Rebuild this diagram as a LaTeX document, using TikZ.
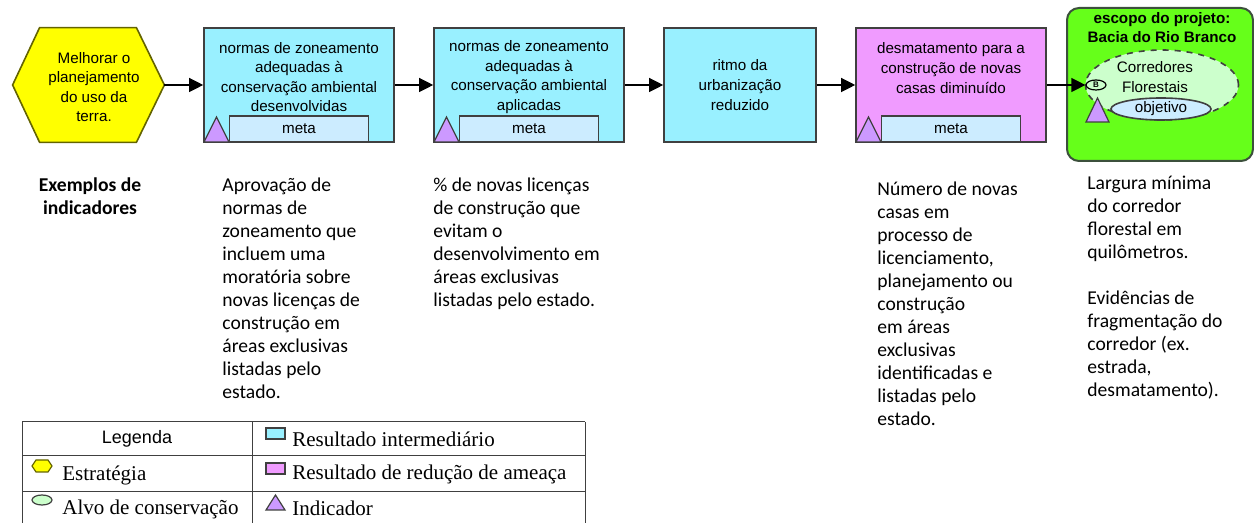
\documentclass[tikz,border=0pt]{standalone}
\usepackage{fontspec}
\setmainfont{Liberation Serif}
\setsansfont{Liberation Sans}
\newfontfamily\calibri{Carlito}
\usetikzlibrary{arrows.meta,shapes.geometric}

\definecolor{boxline}{RGB}{64,64,64}
\definecolor{intcyan}{RGB}{153,240,255}
\definecolor{threatpink}{RGB}{240,155,255}
\definecolor{metablue}{RGB}{204,236,255}
\definecolor{indpurple}{RGB}{204,153,255}
\definecolor{stratyellow}{RGB}{255,255,0}
\definecolor{stratline}{RGB}{100,100,0}
\definecolor{scopegreen}{RGB}{102,255,26}
\definecolor{scopeline}{RGB}{60,80,60}
\definecolor{targetgreen}{RGB}{204,255,204}

\tikzset{
    boxtext/.style={font=\sffamily\fontsize{7.6}{9.8}\selectfont, align=center, inner sep=0pt},
    titletext/.style={boxtext, font=\sffamily\bfseries\fontsize{7.6}{9.8}\selectfont},
    strat/.style={minimum width=75.5pt, minimum height=57pt, inner sep=0pt},
    intres/.style={draw=boxline, line width=0.8pt, fill=intcyan, minimum width=95pt, minimum height=57pt, inner sep=0pt},
    threat/.style={intres, fill=threatpink},
    metabox/.style={boxtext, draw=boxline, line width=0.8pt, fill=metablue, minimum width=69.5pt, minimum height=13pt},
    indicator/.style={draw=boxline, line width=0.6pt, fill=indpurple},
    scope/.style={draw=scopeline, line width=1pt, fill=scopegreen, rounded corners=6pt, minimum width=93pt, minimum height=76.5pt},
    target/.style={ellipse, draw=boxline, dashed, line width=0.8pt, fill=targetgreen, minimum width=76.5pt, minimum height=35pt},
    objective/.style={boxtext, ellipse, draw=boxline, line width=0.8pt, fill=metablue, minimum width=50pt, minimum height=11pt},
    keyattr/.style={ellipse, draw=black, line width=0.6pt, fill=targetgreen, inner sep=0pt, minimum width=10pt, minimum height=5pt, font=\sffamily\bfseries\fontsize{4}{4}\selectfont},
    link/.style={-{Triangle[length=7pt,width=7pt]}, line width=0.6pt},
    indtext/.style={font=\calibri\fontsize{9.8}{11.5}\selectfont, align=left, anchor=north west, inner sep=0pt},
    legline/.style={draw=boxline, line width=0.5pt},
    legtext/.style={font=\fontsize{10.5}{12}\selectfont, anchor=west, inner sep=0pt},
}

\begin{document}
\begin{tikzpicture}[x=0.5pt,y=-0.5pt]
    \useasboundingbox (0,0) rectangle (1254,523);
    % strategy
    \node[strat] (estr) at (88.5,85) {};
    \filldraw[fill=stratyellow,draw=stratline,line width=0.8pt] (estr.west) -- ([xshift=13.5pt]estr.north west) -- ([xshift=-14pt]estr.north east) -- (estr.east) -- ([xshift=-14pt]estr.south east) -- ([xshift=13.5pt]estr.south west) -- cycle;
    \node[boxtext] (estrtext) at (94,87) {Melhorar o\\planejamento\\do uso da\\terra.};
    % results
    \node[intres] (res1) at (299,85) {};
    \node[boxtext] (res1text) at (299,77) {normas de zoneamento\\adequadas à\\conservação ambiental\\desenvolvidas};
    \node[intres] (res2) at (529,85) {};
    \node[boxtext] (res2text) at (529,77) {normas de zoneamento\\adequadas à\\conservação ambiental\\aplicadas};
    \node[intres,boxtext,minimum width=76pt,minimum height=57pt] (res3) at (740,85) {ritmo da\\urbanização\\reduzido};
    \node[threat] (res4) at (951,85) {};
    \node[boxtext] (res4text) at (951,68) {desmatamento para a\\construção de novas\\casas diminuído};
    \foreach \c/\n in {299/1,529/2,951/4}{
        \node[metabox] (meta\n) at (\c,129) {meta};
        \draw[indicator] (\c-95,142) -- (\c-82.5,117) -- (\c-70,142) -- cycle;
    }
    % project scope
    \node[scope] (escopo) at (1160,84.5) {};
    \node[titletext] (escopotext) at (1162,27.5) {escopo do projeto:\\Bacia do Rio Branco};
    \node[target] (alvo) at (1162,85) {};
    \node[boxtext] (alvotext) at (1155,77) {Corredores\\Florestais};
    \node[objective] (obj) at (1161,109) {objetivo};
    \draw[indicator] (1086,122) -- (1097.5,98) -- (1109,122) -- cycle;
    \node[keyattr] (attrB) at (1096,85) {B};
    % links
    \draw[link] (estr.east) -- (res1.west);
    \draw[link] (res1) -- (res2);
    \draw[link] (res2) -- (res3);
    \draw[link] (res3) -- (res4);
    \draw[link] (res4) -- (attrB);
    % indicator examples
    \node[indtext,font=\calibri\bfseries\fontsize{9.8}{11.5}\selectfont,align=center,anchor=north] (exemplos) at (90,177) {Exemplos de\\indicadores};
    \node[indtext] (ind1) at (222,177) {Aprovação de\\normas de\\zoneamento que\\incluem uma\\moratória sobre\\novas licenças de\\construção em\\áreas exclusivas\\listadas pelo\\estado.};
    \node[indtext] (ind2) at (433,177) {\% de novas licenças\\de construção que\\evitam o\\desenvolvimento em\\áreas exclusivas\\listadas pelo estado.};
    \node[indtext] (ind3) at (877,181) {Número de novas\\casas em\\processo de\\licenciamento,\\planejamento ou\\construção\\em áreas\\exclusivas\\identificadas e\\listadas pelo\\estado.};
    \node[indtext] (ind4) at (1087,176) {Largura mínima\\do corredor\\florestal em\\quilômetros.\\[11.5pt]Evidências de\\fragmentação do\\corredor (ex.\\estrada,\\desmatamento).};
    % legend
    \foreach \y in {422,456,492}{
        \draw[legline] (22,\y) -- (585,\y);
    }
    \foreach \x in {22,252,585}{
        \draw[legline] (\x,422) -- (\x,523);
    }
    \node[boxtext,font=\sffamily\fontsize{9}{10}\selectfont] (legenda) at (137,439) {Legenda};
    \filldraw[fill=stratyellow,draw=stratline,line width=0.6pt] (32,466) -- (36,460) -- (48,460) -- (52,466) -- (48,472) -- (36,472) -- cycle;
    \filldraw[fill=targetgreen,draw=boxline,line width=0.6pt] (42,500) ellipse [x radius=5pt, y radius=2.5pt];
    \filldraw[fill=intcyan,draw=boxline,line width=0.6pt] (266,428) rectangle (285,439);
    \filldraw[fill=threatpink,draw=boxline,line width=0.6pt] (266,463) rectangle (285,474);
    \draw[indicator] (266,510) -- (275.5,495) -- (285,510) -- cycle;
    \node[legtext] (legestr) at (62,475) {Estratégia};
    \node[legtext] (legalvo) at (62,509) {Alvo de conservação};
    \node[legtext] (legint) at (292,439) {Resultado intermediário};
    \node[legtext] (legthreat) at (292,474) {Resultado de redução de ameaça};
    \node[legtext] (legind) at (292,508) {Indicador};
\end{tikzpicture}
\end{document}
